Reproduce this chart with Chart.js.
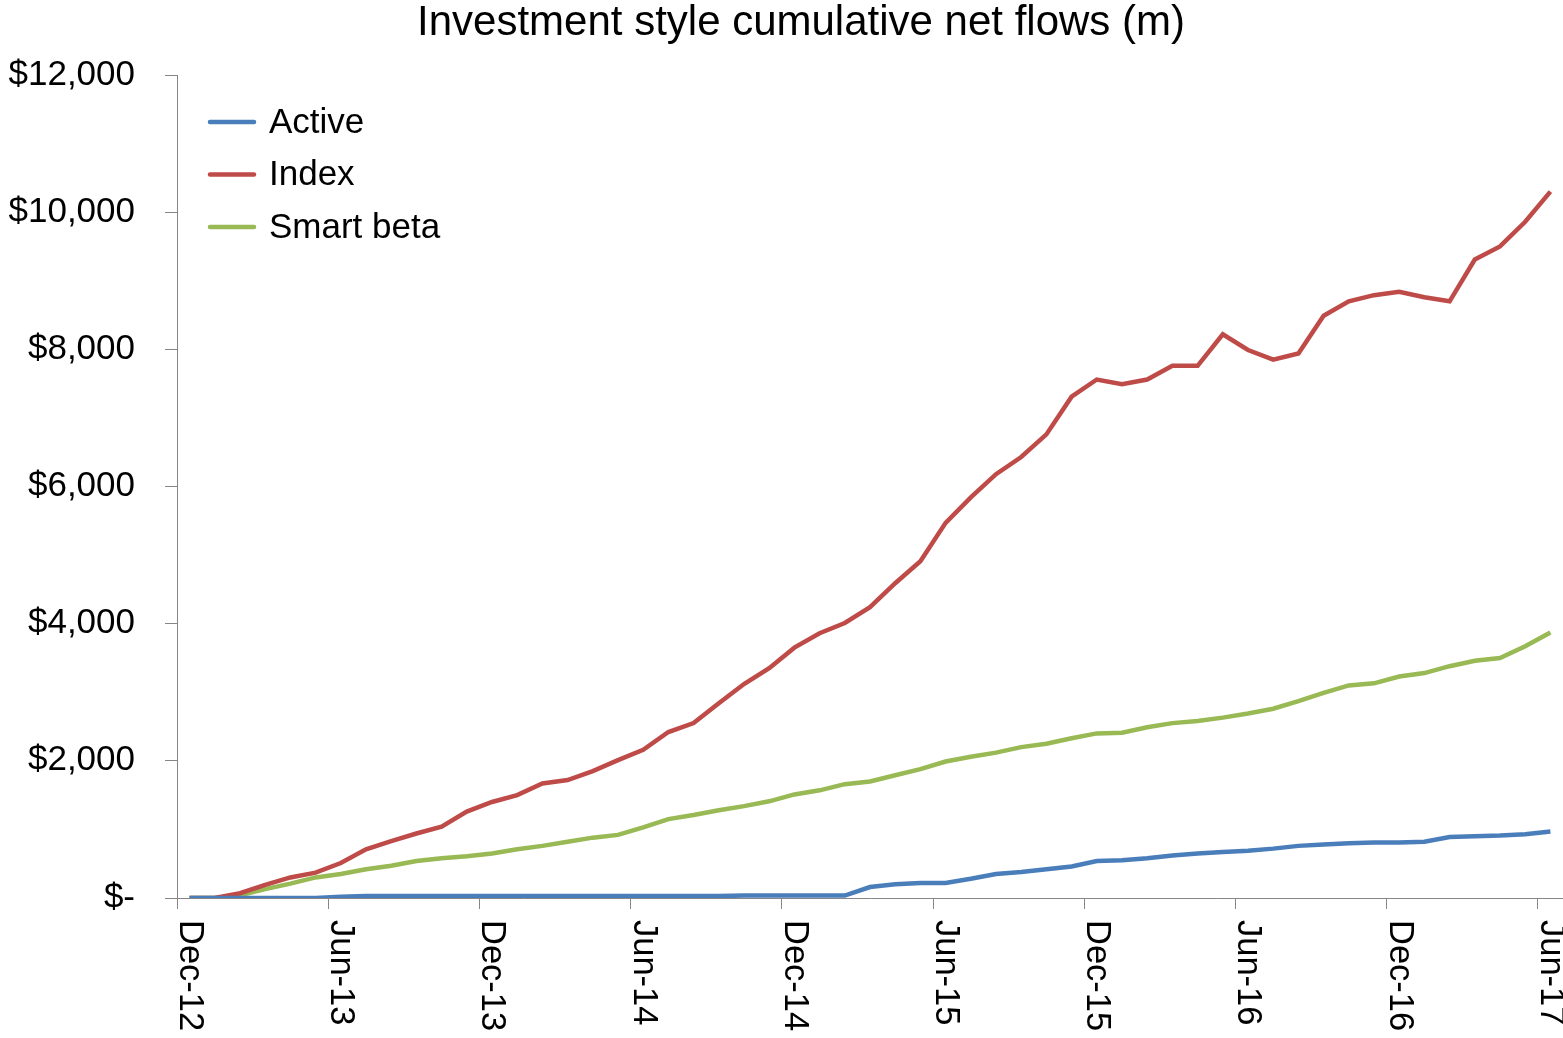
<!DOCTYPE html>
<html>
<head>
<meta charset="utf-8">
<script src="https://cdn.jsdelivr.net/npm/chart.js@4.4.1/dist/chart.umd.min.js"></script>
<style>
  html, body { margin: 0; padding: 0; background: #fff; }
  #wrap { width: 1563px; height: 1038px; position: relative; }
</style>
</head>
<body>
<div id="wrap"><canvas id="flows"></canvas></div>
<script>
// Investment style cumulative net flows ($m), monthly Dec-12 .. Jun-17
const months = [
  'Dec-12',
  'Jan-13', 'Feb-13', 'Mar-13', 'Apr-13', 'May-13', 'Jun-13', 'Jul-13', 'Aug-13', 'Sep-13', 'Oct-13', 'Nov-13', 'Dec-13',
  'Jan-14', 'Feb-14', 'Mar-14', 'Apr-14', 'May-14', 'Jun-14', 'Jul-14', 'Aug-14', 'Sep-14', 'Oct-14', 'Nov-14', 'Dec-14',
  'Jan-15', 'Feb-15', 'Mar-15', 'Apr-15', 'May-15', 'Jun-15', 'Jul-15', 'Aug-15', 'Sep-15', 'Oct-15', 'Nov-15', 'Dec-15',
  'Jan-16', 'Feb-16', 'Mar-16', 'Apr-16', 'May-16', 'Jun-16', 'Jul-16', 'Aug-16', 'Sep-16', 'Oct-16', 'Nov-16', 'Dec-16',
  'Jan-17', 'Feb-17', 'Mar-17', 'Apr-17', 'May-17', 'Jun-17'
];

const active = [
  0, 0, 0, 0, 0, 0, 20, 30, 30, 30,
  30, 30, 30, 30, 30, 30, 30, 30, 30, 30,
  30, 30, 35, 35, 35, 35, 35, 160, 200, 220,
  220, 280, 350, 380, 420, 460, 540, 550, 580, 620,
  650, 670, 690, 720, 760, 780, 800, 810, 810, 820,
  890, 900, 910, 930, 970
];
const indexFlows = [
  0, 0, 70, 190, 300, 370, 510, 710, 830, 940,
  1040, 1260, 1400, 1500, 1670, 1720, 1850, 2010, 2160, 2420,
  2550, 2840, 3120, 3350, 3650, 3860, 4010, 4240, 4590, 4910,
  5470, 5840, 6180, 6430, 6760, 7310, 7560, 7490, 7560, 7760,
  7760, 8220, 7990, 7850, 7940, 8490, 8700, 8790, 8840, 8760,
  8700, 9310, 9500, 9860, 10300
];
const smartBeta = [
  0, 0, 40, 130, 210, 300, 350, 420, 470, 540,
  580, 610, 650, 710, 760, 820, 880, 920, 1030, 1150,
  1210, 1280, 1340, 1410, 1510, 1570, 1660, 1700, 1790, 1880,
  1990, 2060, 2120, 2200, 2250, 2330, 2400, 2410, 2490, 2550,
  2580, 2630, 2690, 2760, 2870, 2990, 3100, 3130, 3230, 3280,
  3380, 3460, 3500, 3670, 3870
];

const yTickLabels = ['$-', '$2,000', '$4,000', '$6,000', '$8,000', '$10,000', '$12,000'];
const seriesNames = ['Active', 'Index', 'Smart beta'];
const seriesColors = ['#4A7EBB', '#BE4B48', '#98B954'];

const FONT = '"Liberation Sans", Arial, sans-serif';
const AXIS_GREY = '#868686';

// title, inside legend and the top-to-bottom month labels
const extras = {
  id: 'extras',
  afterDraw(chart) {
    const ctx = chart.ctx;
    const xs = chart.scales.x;
    ctx.save();
    ctx.fillStyle = '#000';

    ctx.font = '42px ' + FONT;
    ctx.textAlign = 'center';
    ctx.textBaseline = 'middle';
    ctx.fillText('Investment style cumulative net flows (m)', 801, 23);

    // legend
    ctx.font = '35px ' + FONT;
    ctx.textAlign = 'left';
    chart.data.datasets.forEach((ds, i) => {
      const y = 122 + i * 52.5;
      ctx.strokeStyle = ds.borderColor;
      ctx.lineWidth = 4.5;
      ctx.lineCap = 'round';
      ctx.beginPath();
      ctx.moveTo(210, y);
      ctx.lineTo(254, y);
      ctx.stroke();
      ctx.fillText(ds.label, 269, y + 1);
    });

    // x labels every 6 months, rotated clockwise
    ctx.font = '34.5px ' + FONT;
    ctx.textBaseline = 'middle';
    months.forEach((m, i) => {
      if (i % 6 !== 0) return;
      const x = xs.getPixelForValue(i);
      ctx.save();
      ctx.translate(x, 920);
      ctx.rotate(Math.PI / 2);
      ctx.fillText(m, 0, 0);
      ctx.restore();
    });
    ctx.restore();
  }
};

new Chart(document.getElementById('flows'), {
  type: 'line',
  data: {
    labels: months,
    datasets: [active, indexFlows, smartBeta].map((d, i) => ({
      label: seriesNames[i],
      data: d,
      borderColor: seriesColors[i],
      backgroundColor: seriesColors[i],
      borderWidth: 4.5,
      pointRadius: 0,
      tension: 0,
      fill: false
    }))
  },
  options: {
    responsive: true,
    maintainAspectRatio: false,
    animation: false,
    layout: { padding: { top: 75, right: 0, left: 0, bottom: 0 } },
    plugins: {
      legend: { display: false },
      title: { display: false },
      tooltip: { enabled: false }
    },
    scales: {
      x: {
        type: 'category',
        offset: true,
        afterFit: s => { s.height = 140; },
        grid: {
          offset: true,
          drawOnChartArea: false,
          drawTicks: true,
          tickLength: 11,
          lineWidth: 1,
          color: c => (c.index !== undefined && c.index % 6 === 0) ? AXIS_GREY : 'rgba(0,0,0,0)'
        },
        border: { display: true, color: AXIS_GREY, width: 1 },
        ticks: { display: false, autoSkip: false }
      },
      y: {
        min: 0,
        max: 12000,
        afterFit: s => { s.width = 177; },
        grid: {
          drawOnChartArea: false,
          drawTicks: true,
          tickLength: 12,
          color: AXIS_GREY
        },
        border: { display: true, color: AXIS_GREY, width: 1 },
        ticks: {
          stepSize: 2000,
          padding: 30,
          color: '#000',
          font: { family: FONT, size: 35 },
          callback: (v, i) => yTickLabels[i]
        }
      }
    }
  },
  plugins: [extras]
});
</script>
</body>
</html>
